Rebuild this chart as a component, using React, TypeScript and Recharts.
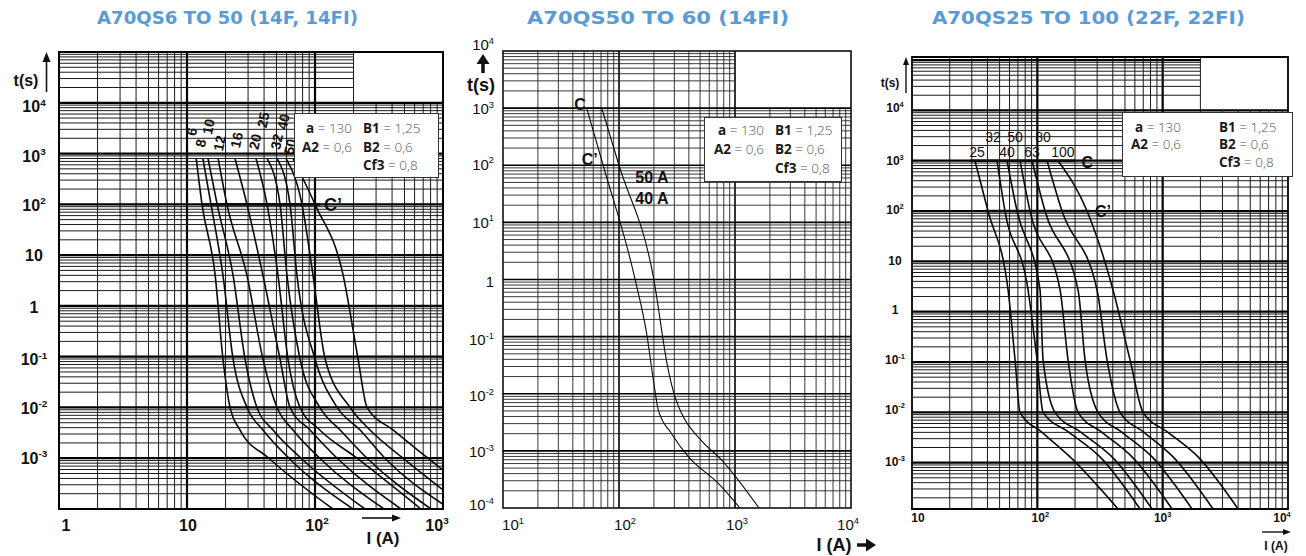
import React from "react";
import { LineChart, Line, XAxis, YAxis, ReferenceLine, ReferenceArea, ReferenceDot } from "recharts";

type Pt = { I: number; t: number };
const zip = (I: number[], t: number[]): Pt[] => I.map((v, k) => ({ I: v, t: t[k] }));

/* ---------------- Panel 1 : A70QS6 TO 50 (14F, 14FI) ---------------- */
const P1_TITLE = "A70QS6 TO 50 (14F, 14FI)";
const P1_T = [800, 100, 4, 0.09, 0.01, 0.0036, 0.001, 0.0001];
const P1_I_6 = [11.8, 13.1, 16.6, 19.1, 21.7, 25.9, 43.7, 138];
const P1_I_8 = [13.3, 15.4, 19.1, 22.9, 29.4, 39.2, 62.6, 198];
const P1_I_10 = [14.6, 17.2, 22.9, 28.4, 35.2, 47.0, 77.8, 246];
const P1_I_12 = [17.5, 20.5, 29.4, 39.2, 50.5, 67.3, 109, 346];
const P1_I_16 = [23.7, 29.4, 39.2, 53.3, 63.8, 91.4, 149, 470];
const P1_I_20 = [34.6, 42.2, 51.4, 61.5, 76.4, 109, 213, 673];
const P1_I_25 = [42.2, 53.3, 60.4, 76.4, 109, 157, 255, 806];
const P1_I_32 = [50.5, 63.8, 72.3, 100, 149, 225, 352, 1000];
const P1_T_32 = [800, 100, 4, 0.09, 0.01, 0.0036, 0.001, 0.000124];
const P1_I_40 = [59.3, 79.1, 96.5, 120, 188, 269, 487, 1000];
const P1_T_40 = [800, 100, 4, 0.09, 0.01, 0.0036, 0.001, 0.000237];
const P1_I_50 = [67.3, 100, 166, 217, 255, 407, 764, 1000];
const P1_T_50 = [800, 100, 4, 0.09, 0.01, 0.0036, 0.001, 0.00058];
const P1_CP_I = [13, 110];
const P1_CP_T = [100, 100];
const P1_RATINGS = ["6", "8", "10", "12", "16", "20", "25", "32", "40", "50"];
const P1_LABEL_I = [10.9, 12.8, 14.7, 17.9, 24.4, 34.0, 39.4, 50.2, 56.5, 63.8];
const P1_LABEL_T = [2700, 1600, 3390, 1600, 1850, 1720, 4590, 1720, 4250, 1370];
const P1_XT = [1, 10, 100, 1000];
const P1_XL = [["1", ""], ["10", ""], ["10", "2"], ["10", "3"]];
const P1_YT = [10000, 1000, 100, 10, 1, 0.1, 0.01, 0.001];
const P1_YL = [["10", "4"], ["10", "3"], ["10", "2"], ["10", ""], ["1", ""], ["10", "-1"], ["10", "-2"], ["10", "-3"]];

/* ---------------- Panel 2 : A70QS50 TO 60 (14FI) ---------------- */
const P2_TITLE = "A70QS50 TO 60 (14FI)";
const P2_I_40 = [52.7, 73, 137, 173, 201, 218, 284, 396, 718, 1104];
const P2_T_40 = [1000, 100, 1.05, 0.114, 0.014, 0.0052, 0.002, 0.00079, 0.00027, 0.0001];
const P2_I_50 = [71, 100, 198, 266, 304, 347, 516, 768, 1611];
const P2_T_50 = [1000, 100, 1.1, 0.026, 0.0088, 0.0045, 0.0015, 0.00069, 0.0001];
const P2_C_I = [52.7, 71];
const P2_C_T = [1000, 1000];
const P2_CP_I = [73, 100];
const P2_CP_T = [100, 100];
const P2_XT = [10, 100, 1000, 10000];
const P2_XL = [["10", "1"], ["10", "2"], ["10", "3"], ["10", "4"]];
const P2_YT = [10000, 1000, 100, 10, 1, 0.1, 0.01, 0.001, 0.0001];
const P2_YL = [["10", "4"], ["10", "3"], ["10", "2"], ["10", "1"], ["1", ""], ["10", "-1"], ["10", "-2"], ["10", "-3"], ["10", "-4"]];

/* ---------------- Panel 3 : A70QS25 TO 100 (22F, 22FI) ---------------- */
const P3_TITLE = "A70QS25 TO 100 (22F, 22FI)";
const P3_T = [1000, 100, 2.7, 0.11, 0.01, 0.004, 0.0013, 0.00012];
const P3_I_25 = [31.8, 40.4, 58.4, 66.4, 72.8, 109.0, 182.4, 440.6];
const P3_I_32 = [47.7, 55.2, 84.3, 99.5, 111.1, 179.1, 316.5, 660.3];
const P3_I_40 = [57.3, 68.9, 105.1, 111.1, 138.4, 223.3, 394.6, 823];
const P3_I_50 = [72.8, 87.4, 151.8, 175.8, 211.3, 328.3, 569.8, 1189];
const P3_I_63 = [90.7, 115.2, 211.3, 240.3, 305.1, 474.2, 823, 1716];
const P3_I_80 = [119.5, 157.4, 299.6, 359.9, 457.1, 710.6, 1211, 2525];
const P3_I_100 = [146.3, 249.2, 401.8, 549.4, 697.6, 1104, 1917, 3997];
const P3_C_I = [29, 200];
const P3_C_T = [1000, 1000];
const P3_CP_I = [38.2, 263];
const P3_CP_T = [100, 100];
const P3_RATINGS = ["32", "50", "80", "25", "40", "63", "100"];
const P3_LABEL_I = [44.3, 66.4, 111, 33.0, 57.3, 90.8, 160];
const P3_LABEL_T = [2958, 2958, 2958, 1489, 1489, 1489, 1489];
const P3_XT = [10, 100, 1000, 10000];
const P3_XL = [["10", ""], ["10", "2"], ["10", "3"], ["10", "4"]];
const P3_YT = [10000, 1000, 100, 10, 1, 0.1, 0.01, 0.001];
const P3_YL = P1_YL;

/* ---------------- parameter boxes ---------------- */
const PARAM_COL1 = [["a", "130"], ["A2", "0,6"]];
const PARAM_COL2 = [["B1", "1,25"], ["B2", "0,6"], ["Cf3", "0,8"]];

const FONT = "'Liberation Sans', Arial, sans-serif";

function logGrid(min: number, max: number): number[] {
  const out: number[] = [];
  const e0 = Math.floor(Math.log10(min));
  const e1 = Math.ceil(Math.log10(max));
  for (let e = e0; e <= e1; e++)
    for (let m = 1; m <= 9; m++) {
      const v = parseFloat((m * Math.pow(10, e)).toPrecision(8));
      if (v >= min * (1 - 1e-9) && v <= max * (1 + 1e-9)) out.push(v);
    }
  return out;
}
const near = (a: number, b: number) => Math.abs(Math.log10(a) - Math.log10(b)) < 1e-7;
const isDecade = (v: number) => {
  const l = Math.log10(v);
  return Math.abs(l - Math.round(l)) < 1e-7;
};

type Curve = { data: Pt[]; w: number };
type Ann = { I: number; t: number; text: string; rot: number; size: number; weight: number };
type Cfg = {
  left: number; width: number; height: number;
  margin: { top: number; right: number; bottom: number; left: number };
  yW: number; xH: number;
  xDom: [number, number]; yDom: [number, number];
  blankX: number; blankY: number;
  xTicks: number[]; xLab: string[][]; xDx: number[]; xDy: number;
  yTicks: number[]; yLab: string[][]; yDx: number; yDy: number[]; yAnchor: "middle" | "end";
  tSize: number; tWeight: number;
  curves: Curve[]; anns: Ann[];
  minorW: number; majorW: number; frameW: number; minorC: string;
};

function supText(base: string, sup: string, x: number, y: number, anchor: string, size: number, weight: number) {
  return (
    <text x={x} y={y} textAnchor={anchor as any} fontSize={size} fontWeight={weight} fontFamily={FONT} fill="#111">
      {base}
      {sup ? (
        <tspan dy={-size * 0.42} fontSize={size * 0.62}>
          {sup}
        </tspan>
      ) : null}
    </text>
  );
}

function xTick(p: any, cfg: Cfg) {
  const i = cfg.xTicks.findIndex((v) => near(v, p.payload.value));
  if (i < 0) return <g />;
  const [b, s] = cfg.xLab[i];
  return supText(b, s, p.x + cfg.xDx[i], p.y + cfg.xDy + cfg.tSize * 0.35, "middle", cfg.tSize, cfg.tWeight);
}
function yTick(p: any, cfg: Cfg) {
  const i = cfg.yTicks.findIndex((v) => near(v, p.payload.value));
  if (i < 0) return <g />;
  const [b, s] = cfg.yLab[i];
  return supText(b, s, p.x + cfg.yDx, p.y + cfg.yDy[i] + cfg.tSize * 0.35, cfg.yAnchor, cfg.tSize, cfg.tWeight);
}

function Panel({ cfg }: { cfg: Cfg }) {
  const [x0, x1] = cfg.xDom;
  const [y0, y1] = cfg.yDom;
  const gx = logGrid(x0, x1).filter((v) => !near(v, x0) && !near(v, x1));
  const gy = logGrid(y0, y1).filter((v) => !near(v, y0) && !near(v, y1));
  return (
    <div style={{ position: "absolute", left: cfg.left, top: 0 }}>
      <LineChart width={cfg.width} height={cfg.height} margin={cfg.margin}>
        <XAxis
          dataKey="I" type="number" scale="log" domain={cfg.xDom} allowDataOverflow
          ticks={cfg.xTicks} interval={0} tickLine={false} axisLine={false} tickSize={0} tickMargin={0}
          height={cfg.xH} tick={(p: any) => xTick(p, cfg)}
        />
        <YAxis
          dataKey="t" type="number" scale="log" domain={cfg.yDom} allowDataOverflow
          ticks={cfg.yTicks} interval={0} tickLine={false} axisLine={false} tickSize={0} tickMargin={0}
          width={cfg.yW} tick={(p: any) => yTick(p, cfg)}
        />
        {gx.map((v) => {
          const cut = v > cfg.blankX * (1 + 1e-6);
          const major = isDecade(v);
          return (
            <ReferenceLine
              key={"vx" + v}
              segment={[{ x: v, y: y0 }, { x: v, y: cut ? cfg.blankY : y1 }]}
              stroke={major ? "#000" : cfg.minorC}
              strokeWidth={major ? cfg.majorW : cfg.minorW}
              ifOverflow="visible"
            />
          );
        })}
        {gy.map((v) => {
          const cut = v > cfg.blankY * (1 + 1e-6);
          const major = isDecade(v);
          return (
            <ReferenceLine
              key={"hy" + v}
              segment={[{ x: x0, y: v }, { x: cut ? cfg.blankX : x1, y: v }]}
              stroke={major ? "#000" : cfg.minorC}
              strokeWidth={major ? cfg.majorW : cfg.minorW}
              ifOverflow="visible"
            />
          );
        })}
        <ReferenceArea x1={x0} x2={x1} y1={y0} y2={y1} fill="none" stroke="#000" strokeWidth={cfg.frameW} ifOverflow="visible" />
        {cfg.curves.map((c, k) => (
          <Line
            key={"c" + k}
            data={c.data}
            dataKey="t"
            type="monotone"
            stroke="#0a0a0a"
            strokeWidth={c.w}
            dot={false}
            activeDot={false}
            isAnimationActive={false}
          />
        ))}
        {cfg.anns.map((a, k) => (
          <ReferenceDot
            key={"a" + k}
            x={a.I}
            y={a.t}
            r={1}
            ifOverflow="visible"
            shape={(p: any) => (
              <text
                x={p.cx}
                y={p.cy}
                transform={a.rot ? `rotate(${a.rot} ${p.cx} ${p.cy})` : undefined}
                textAnchor="middle"
                dominantBaseline="central"
                fontSize={a.size}
                fontWeight={a.weight}
                fontFamily={FONT}
                fill="#111"
              >
                {a.text}
              </text>
            )}
          />
        ))}
      </LineChart>
    </div>
  );
}

const p1Curves: Curve[] = [
  { data: zip(P1_I_6, P1_T), w: 1.6 },
  { data: zip(P1_I_8, P1_T), w: 1.6 },
  { data: zip(P1_I_10, P1_T), w: 1.6 },
  { data: zip(P1_I_12, P1_T), w: 1.6 },
  { data: zip(P1_I_16, P1_T), w: 1.6 },
  { data: zip(P1_I_20, P1_T), w: 1.6 },
  { data: zip(P1_I_25, P1_T), w: 1.6 },
  { data: zip(P1_I_32, P1_T_32), w: 1.6 },
  { data: zip(P1_I_40, P1_T_40), w: 1.6 },
  { data: zip(P1_I_50, P1_T_50), w: 1.6 },
  { data: zip(P1_CP_I, P1_CP_T), w: 2.6 },
];
const p1Anns: Ann[] = [
  ...P1_RATINGS.map((r, k) => ({ I: P1_LABEL_I[k], t: P1_LABEL_T[k], text: r, rot: -78, size: 14, weight: 700 })),
  { I: 138, t: 97, text: "C’", rot: 0, size: 18, weight: 700 },
];
const cfg1: Cfg = {
  left: 0, width: 460, height: 556,
  margin: { top: 52, right: 17, bottom: 17, left: 9 },
  yW: 50, xH: 30,
  xDom: [1, 1000], yDom: [0.0001, 100000],
  blankX: 200, blankY: 10000,
  xTicks: P1_XT, xLab: P1_XL, xDx: [7, 1, 2, -6], xDy: 16,
  yTicks: P1_YT, yLab: P1_YL, yDx: -25, yDy: [4, 3, 1, 0, 2, 3, 1, 0], yAnchor: "middle",
  tSize: 16, tWeight: 700,
  curves: p1Curves, anns: p1Anns,
  minorW: 1, majorW: 2.2, frameW: 2, minorC: "#1a1a1a",
};

const p2Curves: Curve[] = [
  { data: zip(P2_I_40, P2_T_40), w: 1.1 },
  { data: zip(P2_I_50, P2_T_50), w: 1.1 },
  { data: zip(P2_C_I, P2_C_T), w: 1.3 },
  { data: zip(P2_CP_I, P2_CP_T), w: 1.3 },
];
const p2Anns: Ann[] = [
  { I: 46.2, t: 1180, text: "C", rot: 0, size: 16, weight: 700 },
  { I: 56, t: 128, text: "C’", rot: 0, size: 16, weight: 700 },
  { I: 192, t: 62, text: "50 A", rot: 0, size: 16, weight: 700 },
  { I: 192, t: 26.7, text: "40 A", rot: 0, size: 16, weight: 700 },
];
const cfg2: Cfg = {
  left: 455, width: 420, height: 556,
  margin: { top: 51, right: 24, bottom: 18, left: 8 },
  yW: 40, xH: 30,
  xDom: [10, 10000], yDom: [0.0001, 10000],
  blankX: 1000, blankY: 1000,
  xTicks: P2_XT, xLab: P2_XL, xDx: [10, 6, 2, -3], xDy: 17,
  yTicks: P2_YT, yLab: P2_YL, yDx: -9, yDy: [-6, 1, -1, 0, 2, 3, 2, 1, -3], yAnchor: "end",
  tSize: 15, tWeight: 400,
  curves: p2Curves, anns: p2Anns,
  minorW: 0.9, majorW: 1.6, frameW: 1.5, minorC: "#222",
};

const p3Curves: Curve[] = [
  { data: zip(P3_I_25, P3_T), w: 1.6 },
  { data: zip(P3_I_32, P3_T), w: 1.6 },
  { data: zip(P3_I_40, P3_T), w: 1.6 },
  { data: zip(P3_I_50, P3_T), w: 1.6 },
  { data: zip(P3_I_63, P3_T), w: 1.6 },
  { data: zip(P3_I_80, P3_T), w: 1.6 },
  { data: zip(P3_I_100, P3_T), w: 1.6 },
  { data: zip(P3_C_I, P3_C_T), w: 2.4 },
  { data: zip(P3_CP_I, P3_CP_T), w: 2.4 },
];
const p3Anns: Ann[] = [
  ...P3_RATINGS.map((r, k) => ({ I: P3_LABEL_I[k], t: P3_LABEL_T[k], text: r, rot: 0, size: 14, weight: 400 })),
  { I: 250, t: 942, text: "C", rot: 0, size: 16, weight: 700 },
  { I: 334, t: 95.7, text: "C’", rot: 0, size: 16, weight: 700 },
];
const cfg3: Cfg = {
  left: 870, width: 436, height: 556,
  margin: { top: 57, right: 18, bottom: 17, left: 6 },
  yW: 36, xH: 30,
  xDom: [10, 10000], yDom: [0.00012, 115000],
  blankX: 2000, blankY: 10000,
  xTicks: P3_XT, xLab: P3_XL, xDx: [6, 3, 0, -6], xDy: 9,
  yTicks: P3_YT, yLab: P3_YL, yDx: -17, yDy: [-3, 0, -1, -1, -2, -2, -3, -1], yAnchor: "middle",
  tSize: 12, tWeight: 700,
  curves: p3Curves, anns: p3Anns,
  minorW: 1, majorW: 2.2, frameW: 1.8, minorC: "#1a1a1a",
};

function ParamBox({ left, top, width, c1, c2, rows, size }: { left: number; top: number; width: number; c1: number; c2: number; rows: number[]; size: number }) {
  const lab = { fontWeight: 700, color: "#1a1a1a" } as React.CSSProperties;
  const val = { fontWeight: 300, color: "#555" } as React.CSSProperties;
  const item = (k: string, v: string) => (
    <>
      <span style={lab}>{k}</span>
      <span style={val}>{"\u00a0=\u00a0" + v}</span>
    </>
  );
  return (
    <div
      style={{
        position: "absolute", left, top, width, height: 65, boxSizing: "border-box",
        border: "1.3px solid #333", background: "#fff", fontFamily: "'Open Sans', sans-serif", fontSize: size,
      }}
    >
      {PARAM_COL1.map(([k, v], i) => (
        <div key={"c1" + i} style={{ position: "absolute", right: width - c1, top: rows[i] - 10, lineHeight: "20px", whiteSpace: "nowrap" }}>
          {item(k, v)}
        </div>
      ))}
      {PARAM_COL2.map(([k, v], i) => (
        <div key={"c2" + i} style={{ position: "absolute", left: c2, top: rows[i] - 10, lineHeight: "20px", whiteSpace: "nowrap" }}>
          {item(k, v)}
        </div>
      ))}
    </div>
  );
}

export default function App() {
  const tc = "#5b9bd5";
  return (
    <div style={{ position: "absolute", left: 0, top: 0, width: 1306, height: 556, background: "#fff", overflow: "hidden" }}>
      <Panel cfg={cfg1} />
      <Panel cfg={cfg2} />
      <Panel cfg={cfg3} />
      <ParamBox left={294} top={113} width={145} c1={59} c2={68} rows={[14, 33, 51]} size={13.5} />
      <ParamBox left={704} top={117} width={138} c1={61} c2={70} rows={[12, 31, 50]} size={13.5} />
      <ParamBox left={1122} top={112} width={171} c1={60} c2={96} rows={[14, 31, 49]} size={13.5} />
      <svg width={1306} height={556} style={{ position: "absolute", left: 0, top: 0, pointerEvents: "none" }}>
        <g fontFamily="'DejaVu Sans', sans-serif" fontWeight="bold" fontSize={17} fill={tc}>
          <text x={97} y={24} textLength={261} lengthAdjust="spacingAndGlyphs">{P1_TITLE}</text>
          <text x={527} y={24} textLength={262} lengthAdjust="spacingAndGlyphs">{P2_TITLE}</text>
          <text x={932} y={24} textLength={313} lengthAdjust="spacingAndGlyphs">{P3_TITLE}</text>
        </g>
        <g fontFamily={FONT} fontWeight="bold" fill="#111" textAnchor="middle">
          <text x={26} y={86} fontSize={16}>t(s)</text>
          <text x={383} y={544} fontSize={17}>I (A)</text>
          <text x={481} y={91} fontSize={18}>t(s)</text>
          <text x={834} y={551} fontSize={18}>I (A)</text>
          <text x={890} y={87} fontSize={12}>t(s)</text>
          <text x={1276} y={550} fontSize={12}>I (A)</text>
        </g>
        <g stroke="#111" fill="#111">
          <line x1={46.5} y1={92} x2={46.5} y2={60} strokeWidth={1.6} />
          <polygon points="46.5,52 42.5,62 50.5,62" stroke="none" />
          <line x1={362} y1={518} x2={394} y2={518} strokeWidth={1.6} />
          <polygon points="401,518 392,514.5 392,521.5" stroke="none" />
          <line x1={483} y1={73} x2={483} y2={62} strokeWidth={3.5} />
          <polygon points="483,54 476.5,64 489.5,64" stroke="none" />
          <line x1={857} y1={545} x2={867} y2={545} strokeWidth={3.5} />
          <polygon points="876,545 866,538.5 866,551.5" stroke="none" />
          <line x1={906} y1={93} x2={906} y2={63} strokeWidth={1.4} />
          <polygon points="906,57 903,65 909,65" stroke="none" />
          <line x1={1262} y1={532} x2={1285} y2={532} strokeWidth={1.4} />
          <polygon points="1291,532 1283,529 1283,535" stroke="none" />
        </g>
      </svg>
    </div>
  );
}
